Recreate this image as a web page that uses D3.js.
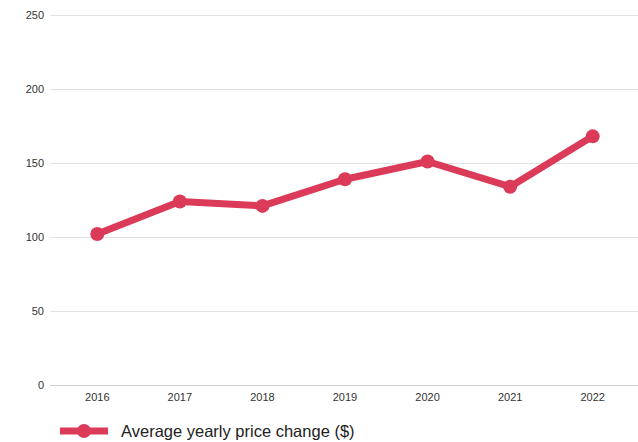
<!DOCTYPE html>
<html>
<head>
<meta charset="utf-8">
<script src="https://cdn.jsdelivr.net/npm/d3@7"></script>
<style>
  body { margin: 0; background: #fff; }
  text { font-family: "Liberation Sans", Arial, sans-serif; }
</style>
</head>
<body>
<svg id="chart" width="638" height="442"></svg>
<script>
let years = ["2016", "2017", "2018", "2019", "2020", "2021", "2022"];
let priceChange = [102, 124, 121, 139, 151, 134, 168];
let yTicks = [0, 50, 100, 150, 200, 250];
let seriesName = "Average yearly price change ($)";

let svg = d3.select("#chart"),
    lineColor = "#db3a59";

let x = d3.scalePoint().domain(years).range([56, 634]).padding(0.5),
    y = d3.scaleLinear().domain([0, 250]).range([385, 15]);

// grid lines + y labels
let grid = svg.append("g");
grid.selectAll("line")
    .data(yTicks)
    .enter().append("line")
    .attr("x1", 50)
    .attr("x2", 638)
    .attr("y1", function(d) { return y(d) + 0.5; })
    .attr("y2", function(d) { return y(d) + 0.5; })
    .attr("stroke", function(d) { return d === 0 ? "#cfcfcf" : "#e2e2e2"; })
    .attr("stroke-width", 1);

grid.selectAll("text")
    .data(yTicks)
    .enter().append("text")
    .attr("x", 44)
    .attr("y", function(d) { return y(d) + 4; })
    .attr("text-anchor", "end")
    .attr("font-size", "11px")
    .attr("fill", "#333")
    .text(function(d) { return d; });

// x labels
svg.append("g").selectAll("text")
    .data(years)
    .enter().append("text")
    .attr("x", function(d) { return x(d); })
    .attr("y", 401)
    .attr("text-anchor", "middle")
    .attr("font-size", "11px")
    .attr("fill", "#333")
    .text(function(d) { return d; });

// the line
let data = years.map(function(d, i) { return { year: d, value: priceChange[i] }; });

svg.append("path")
    .datum(data)
    .attr("fill", "none")
    .attr("stroke", lineColor)
    .attr("stroke-width", 7)
    .attr("stroke-linejoin", "round")
    .attr("d", d3.line()
        .x(function(d) { return x(d.year); })
        .y(function(d) { return y(d.value); }));

svg.selectAll(".dot")
    .data(data)
    .enter().append("circle")
    .attr("class", "dot")
    .attr("cx", function(d) { return x(d.year); })
    .attr("cy", function(d) { return y(d.value); })
    .attr("r", 7)
    .attr("fill", lineColor);

// legend
let legend = svg.append("g").attr("transform", "translate(60,431)");
legend.append("line")
    .attr("x1", 0).attr("x2", 48)
    .attr("y1", 0).attr("y2", 0)
    .attr("stroke", lineColor)
    .attr("stroke-width", 7);
legend.append("circle")
    .attr("cx", 24).attr("cy", 0).attr("r", 7)
    .attr("fill", lineColor);
legend.append("text")
    .attr("x", 61)
    .attr("y", 6)
    .attr("font-size", "16.5px")
    .attr("fill", "#222")
    .text(seriesName);
</script>
</body>
</html>
